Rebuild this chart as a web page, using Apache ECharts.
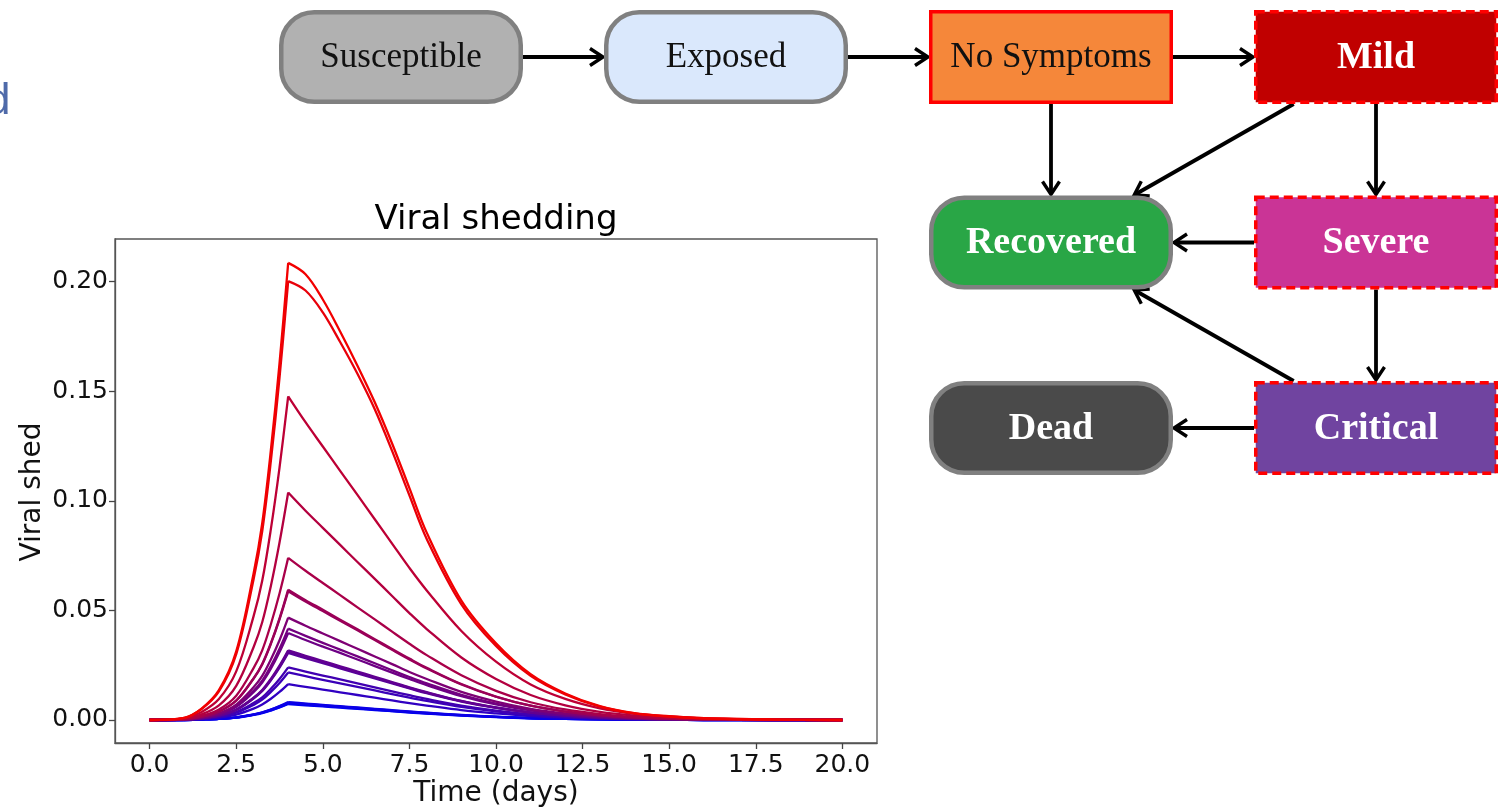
<!DOCTYPE html>
<html>
<head>
<meta charset="utf-8">
<script src="https://cdn.jsdelivr.net/npm/echarts@6/dist/echarts.min.js"></script>
<style>
html,body{margin:0;padding:0;background:#ffffff;}
#main{width:1506px;height:809px;}
</style>
</head>
<body>
<div id="main"></div>
<script>
// ---------------- data ----------------
const timeDays = [0, 1, 1.5, 2, 2.5, 3, 3.25, 3.5, 3.75, 4, 4.5, 5, 5.5, 6, 6.5, 7, 7.5, 8, 9, 10, 11, 12, 13, 14, 15, 16, 18, 20];
const peakDay = 4;

const shed01 = [0, 0.0010, 0.0052, 0.0136, 0.0313, 0.0668, 0.0897, 0.1231, 0.1627, 0.2086, 0.2034, 0.1919, 0.1773, 0.1617, 0.1450, 0.1262, 0.1058, 0.0855, 0.0545, 0.0350, 0.0209, 0.0121, 0.0063, 0.0031, 0.0017, 0.0008, 0.0002, 0];
const shed02 = [0, 0.0010, 0.0050, 0.0130, 0.0300, 0.0641, 0.0861, 0.1182, 0.1562, 0.2003, 0.1960, 0.1860, 0.1725, 0.1580, 0.1418, 0.1228, 0.1025, 0.0826, 0.0528, 0.0338, 0.0202, 0.0117, 0.0061, 0.0030, 0.0016, 0.0008, 0.0002, 0];
const shed03 = [0, 0.0007, 0.0037, 0.0096, 0.0222, 0.0473, 0.0635, 0.0871, 0.1152, 0.1477, 0.1359, 0.1248, 0.1137, 0.1027, 0.0916, 0.0805, 0.0694, 0.0591, 0.0406, 0.0266, 0.0162, 0.0096, 0.0053, 0.0028, 0.0015, 0.0007, 0.0002, 0];
const shed04 = [0, 0.0005, 0.0026, 0.0067, 0.0156, 0.0332, 0.0446, 0.0612, 0.0810, 0.1038, 0.0955, 0.0877, 0.0799, 0.0721, 0.0644, 0.0566, 0.0488, 0.0415, 0.0285, 0.0187, 0.0114, 0.0067, 0.0037, 0.0020, 0.0010, 0.0005, 0.0002, 0];
const shed05 = [0, 0.0004, 0.0019, 0.0048, 0.0111, 0.0237, 0.0318, 0.0437, 0.0577, 0.0740, 0.0681, 0.0625, 0.0570, 0.0514, 0.0459, 0.0403, 0.0348, 0.0296, 0.0204, 0.0133, 0.0081, 0.0048, 0.0027, 0.0014, 0.0007, 0.0004, 0.0001, 0];
const shed06 = [0, 0.0003, 0.0015, 0.0039, 0.0089, 0.0190, 0.0256, 0.0351, 0.0464, 0.0595, 0.0547, 0.0503, 0.0458, 0.0414, 0.0369, 0.0324, 0.0280, 0.0238, 0.0164, 0.0107, 0.0065, 0.0039, 0.0021, 0.0011, 0.0006, 0.0003, 0.0001, 0];
const shed07 = [0, 0.0003, 0.0015, 0.0038, 0.0088, 0.0188, 0.0253, 0.0347, 0.0459, 0.0588, 0.0541, 0.0497, 0.0453, 0.0409, 0.0365, 0.0320, 0.0276, 0.0235, 0.0162, 0.0106, 0.0065, 0.0038, 0.0021, 0.0011, 0.0006, 0.0003, 0.0001, 0];
const shed08 = [0, 0.0002, 0.0012, 0.0030, 0.0070, 0.0149, 0.0201, 0.0276, 0.0364, 0.0467, 0.0430, 0.0395, 0.0360, 0.0325, 0.0290, 0.0255, 0.0219, 0.0187, 0.0128, 0.0084, 0.0051, 0.0030, 0.0017, 0.0009, 0.0005, 0.0002, 0.0001, 0];
const shed09 = [0, 0.0002, 0.0010, 0.0027, 0.0063, 0.0133, 0.0179, 0.0246, 0.0325, 0.0417, 0.0384, 0.0352, 0.0321, 0.0290, 0.0259, 0.0227, 0.0196, 0.0167, 0.0115, 0.0075, 0.0046, 0.0027, 0.0015, 0.0008, 0.0004, 0.0002, 0.0001, 0];
const shed10 = [0, 0.0002, 0.0010, 0.0026, 0.0060, 0.0127, 0.0171, 0.0234, 0.0310, 0.0397, 0.0365, 0.0335, 0.0306, 0.0276, 0.0246, 0.0216, 0.0187, 0.0159, 0.0109, 0.0071, 0.0044, 0.0026, 0.0014, 0.0008, 0.0004, 0.0002, 0.0001, 0];
const shed11 = [0, 0.0002, 0.0008, 0.0021, 0.0048, 0.0102, 0.0137, 0.0188, 0.0248, 0.0318, 0.0293, 0.0269, 0.0245, 0.0221, 0.0197, 0.0173, 0.0149, 0.0127, 0.0087, 0.0057, 0.0035, 0.0021, 0.0011, 0.0006, 0.0003, 0.0002, 0.0000, 0];
const shed12 = [0, 0.0002, 0.0008, 0.0020, 0.0047, 0.0100, 0.0134, 0.0184, 0.0243, 0.0312, 0.0287, 0.0264, 0.0240, 0.0217, 0.0193, 0.0170, 0.0147, 0.0125, 0.0086, 0.0056, 0.0034, 0.0020, 0.0011, 0.0006, 0.0003, 0.0002, 0.0000, 0];
const shed13 = [0, 0.0002, 0.0008, 0.0020, 0.0046, 0.0098, 0.0132, 0.0181, 0.0239, 0.0306, 0.0282, 0.0259, 0.0236, 0.0213, 0.0190, 0.0167, 0.0144, 0.0122, 0.0084, 0.0055, 0.0034, 0.0020, 0.0011, 0.0006, 0.0003, 0.0002, 0.0000, 0];
const shed14 = [0, 0.0001, 0.0006, 0.0016, 0.0036, 0.0077, 0.0103, 0.0142, 0.0187, 0.0240, 0.0221, 0.0203, 0.0185, 0.0167, 0.0149, 0.0131, 0.0113, 0.0096, 0.0066, 0.0043, 0.0026, 0.0016, 0.0009, 0.0005, 0.0002, 0.0001, 0.0000, 0];
const shed15 = [0, 0.0001, 0.0005, 0.0014, 0.0033, 0.0069, 0.0093, 0.0128, 0.0169, 0.0217, 0.0200, 0.0183, 0.0167, 0.0151, 0.0135, 0.0118, 0.0102, 0.0087, 0.0060, 0.0039, 0.0024, 0.0014, 0.0008, 0.0004, 0.0002, 0.0001, 0.0000, 0];
const shed16 = [0, 0.0001, 0.0004, 0.0011, 0.0025, 0.0052, 0.0071, 0.0097, 0.0128, 0.0164, 0.0151, 0.0139, 0.0126, 0.0114, 0.0102, 0.0089, 0.0077, 0.0066, 0.0045, 0.0030, 0.0018, 0.0011, 0.0006, 0.0003, 0.0002, 0.0001, 0.0000, 0];
const shed17 = [0, 0.0000, 0.0002, 0.0005, 0.0012, 0.0026, 0.0035, 0.0048, 0.0064, 0.0082, 0.0075, 0.0069, 0.0063, 0.0057, 0.0051, 0.0045, 0.0039, 0.0033, 0.0023, 0.0015, 0.0009, 0.0005, 0.0003, 0.0002, 0.0001, 0.0000, 0.0000, 0];
const shed18 = [0, 0.0000, 0.0002, 0.0005, 0.0012, 0.0025, 0.0034, 0.0047, 0.0062, 0.0079, 0.0073, 0.0067, 0.0061, 0.0055, 0.0049, 0.0043, 0.0037, 0.0032, 0.0022, 0.0014, 0.0009, 0.0005, 0.0003, 0.0002, 0.0001, 0.0000, 0.0000, 0];
const shed19 = [0, 0.0000, 0.0002, 0.0005, 0.0011, 0.0024, 0.0033, 0.0045, 0.0059, 0.0076, 0.0070, 0.0064, 0.0059, 0.0053, 0.0047, 0.0041, 0.0036, 0.0030, 0.0021, 0.0014, 0.0008, 0.0005, 0.0003, 0.0001, 0.0001, 0.0000, 0.0000, 0];
const shed20 = [0, 0.0000, 0.0002, 0.0005, 0.0011, 0.0023, 0.0031, 0.0043, 0.0057, 0.0073, 0.0067, 0.0062, 0.0056, 0.0051, 0.0045, 0.0040, 0.0034, 0.0029, 0.0020, 0.0013, 0.0008, 0.0005, 0.0003, 0.0001, 0.0001, 0.0000, 0.0000, 0];

// red share of each curve's colour (1 = red, 0 = blue), same order as the curves
const curveRedness = [1.0, 0.96, 0.78, 0.74, 0.70, 0.64, 0.62, 0.52, 0.47, 0.45, 0.40, 0.38, 0.36, 0.27, 0.24, 0.20, 0.05, 0.03, 0.01, 0.0];

const xTickValues = [0, 2.5, 5, 7.5, 10, 12.5, 15, 17.5, 20];
const yTickValues = [0, 0.05, 0.10, 0.15, 0.20];

// flow diagram
const nodeNames = ['Susceptible', 'Exposed', 'No Symptoms', 'Mild', 'Recovered', 'Severe', 'Dead', 'Critical'];
const nodeCol   = [0, 1, 2, 3, 2, 3, 2, 3];
const nodeRow   = [0, 0, 0, 0, 1, 1, 2, 2];
const edgeFrom  = ['Susceptible', 'Exposed', 'No Symptoms', 'No Symptoms', 'Mild', 'Mild', 'Severe', 'Severe', 'Critical', 'Critical'];
const edgeTo    = ['Exposed', 'No Symptoms', 'Mild', 'Recovered', 'Recovered', 'Severe', 'Recovered', 'Critical', 'Recovered', 'Dead'];

// ---------------- styles ----------------
const nodeStyle = {
  'Susceptible': {fill: '#b1b1b1', stroke: '#808080', dash: null, round: true,  text: '#111111', bold: false},
  'Exposed':     {fill: '#dae8fc', stroke: '#808080', dash: null, round: true,  text: '#111111', bold: false},
  'No Symptoms': {fill: '#f5873a', stroke: '#ff0000', dash: null, round: false, text: '#111111', bold: false},
  'Mild':        {fill: '#c00000', stroke: '#ff0000', dash: [9, 5], round: false, text: '#ffffff', bold: true},
  'Recovered':   {fill: '#29a646', stroke: '#808080', dash: null, round: true,  text: '#ffffff', bold: true},
  'Severe':      {fill: '#ca3496', stroke: '#ff0000', dash: [9, 5], round: false, text: '#ffffff', bold: true},
  'Dead':        {fill: '#4a4a4a', stroke: '#808080', dash: null, round: true,  text: '#ffffff', bold: true},
  'Critical':    {fill: '#7044a0', stroke: '#ff0000', dash: [9, 5], round: false, text: '#ffffff', bold: true}
};
const NODE_W = 244, NODE_H = 94;

const allCurves = [shed01, shed02, shed03, shed04, shed05, shed06, shed07, shed08, shed09, shed10,
                   shed11, shed12, shed13, shed14, shed15, shed16, shed17, shed18, shed19, shed20];

function curveColor(r) {
  return 'rgb(' + Math.round(242 * r) + ',' + 0 + ',' + Math.round(242 * (1 - r)) + ')';
}

const chart = echarts.init(document.getElementById('main'), null, {renderer: 'canvas'});

const series = [];
const peakIdx = timeDays.indexOf(peakDay);
// draw blue first so red lies on top; rising and falling parts are smoothed separately
for (let k = allCurves.length - 1; k >= 0; k--) {
  const vals = allCurves[k];
  const col = curveColor(curveRedness[k]);
  const pts = timeDays.map((t, i) => [t, vals[i]]);
  [pts.slice(0, peakIdx + 1), pts.slice(peakIdx)].forEach(part => {
    series.push({
      type: 'line',
      xAxisIndex: 0, yAxisIndex: 0,
      data: part,
      smooth: 0.35,
      showSymbol: false, symbol: 'none',
      lineStyle: {width: 2.3, color: col, join: 'round'},
      itemStyle: {color: col},
      silent: true,
      z: 3
    });
  });
}

const nodeData = nodeNames.map((n, i) => [nodeCol[i], nodeRow[i], i]);
series.push({
  type: 'custom',
  coordinateSystem: 'cartesian2d',
  xAxisIndex: 1, yAxisIndex: 1,
  data: nodeData,
  silent: true,
  z: 5,
  renderItem: function (params, api) {
    const c = api.coord([api.value(0), api.value(1)]);
    const name = nodeNames[api.value(2)];
    const st = nodeStyle[name];
    const lw = st.round ? 4.5 : 3.5;
    const w = NODE_W - lw, h = NODE_H - lw;
    return {
      type: 'group',
      children: [
        {
          type: 'rect',
          shape: {x: c[0] - w / 2, y: c[1] - h / 2, width: w, height: h, r: st.round ? 33 : 0},
          style: {fill: st.fill, stroke: st.stroke, lineWidth: lw, lineDash: st.dash || null}
        },
        {
          type: 'text',
          x: c[0], y: c[1] + 1,
          style: {
            text: name,
            fill: st.text,
            font: (st.bold ? 'bold 38px ' : '35px ') + '"Liberation Serif", "DejaVu Serif", serif',
            align: 'center', verticalAlign: 'middle'
          }
        }
      ]
    };
  }
});

const edgeData = edgeFrom.map((f, i) => {
  const a = nodeNames.indexOf(f), b = nodeNames.indexOf(edgeTo[i]);
  return [nodeCol[a], nodeRow[a], nodeCol[b], nodeRow[b]];
});
series.push({
  type: 'custom',
  coordinateSystem: 'cartesian2d',
  xAxisIndex: 1, yAxisIndex: 1,
  data: edgeData,
  silent: true,
  z: 4,
  renderItem: function (params, api) {
    const a = api.coord([api.value(0), api.value(1)]);
    const b = api.coord([api.value(2), api.value(3)]);
    const dx = b[0] - a[0], dy = b[1] - a[1];
    const len = Math.hypot(dx, dy);
    const ux = dx / len, uy = dy / len;
    const hw = NODE_W / 2, hh = NODE_H / 2;
    const tx = Math.abs(ux) > 1e-6 ? hw / Math.abs(ux) : Infinity;
    const ty = Math.abs(uy) > 1e-6 ? hh / Math.abs(uy) : Infinity;
    const te = Math.min(tx, ty);
    const p0 = [a[0] + ux * te, a[1] + uy * te];
    const tip = [b[0] - ux * (te + 1), b[1] - uy * (te + 1)];
    const L = 13, W = 8.5;
    const nx = -uy, ny = ux;
    const back = [tip[0] - ux * L, tip[1] - uy * L];
    return {
      type: 'group',
      children: [
        {
          type: 'line',
          shape: {x1: p0[0], y1: p0[1], x2: tip[0] - ux * 2, y2: tip[1] - uy * 2},
          style: {stroke: '#000', lineWidth: 3.8}
        },
        {
          type: 'polyline',
          shape: {points: [[back[0] + nx * W, back[1] + ny * W], tip, [back[0] - nx * W, back[1] - ny * W]]},
          style: {stroke: '#000', lineWidth: 3.4, fill: null, lineJoin: 'miter'}
        }
      ]
    };
  }
});

const tickFont = '"DejaVu Sans", sans-serif';

const option = {
  animation: false,
  backgroundColor: '#ffffff',
  grid: [
    {left: 115, top: 239, width: 762, height: 504, show: true, borderColor: '#555', borderWidth: 1.3, backgroundColor: 'transparent', containLabel: false},
    {left: 271, top: 1.35, width: 1235, height: 482.3, show: false, containLabel: false}
  ],
  xAxis: [
    {
      gridIndex: 0, type: 'value', min: -1, max: 21, position: 'bottom',
      axisLine: {show: true, onZero: false, lineStyle: {color: '#555', width: 1.3}},
      axisTick: {show: true, inside: false, length: 6, customValues: xTickValues, lineStyle: {color: '#444', width: 1.3}},
      axisLabel: {show: true, customValues: xTickValues, formatter: v => Number(v).toFixed(1), fontSize: 25, fontFamily: tickFont, color: '#111', margin: 10},
      splitLine: {show: false}
    },
    {gridIndex: 1, type: 'value', min: -0.4, max: 3.4, show: false}
  ],
  yAxis: [
    {
      gridIndex: 0, type: 'value', min: -0.0105, max: 0.2195, position: 'left',
      axisLine: {show: true, onZero: false, lineStyle: {color: '#555', width: 1.3}},
      axisTick: {show: true, inside: false, length: 6, customValues: yTickValues, lineStyle: {color: '#444', width: 1.3}},
      axisLabel: {show: true, customValues: yTickValues, formatter: v => Number(v).toFixed(2), fontSize: 25, fontFamily: tickFont, color: '#111', margin: 7},
      splitLine: {show: false}
    },
    {gridIndex: 1, type: 'value', min: -0.3, max: 2.3, inverse: true, show: false}
  ],
  graphic: [
    {type: 'text', x: 496, y: 220, silent: true,
     style: {text: 'Viral shedding', font: '34px "DejaVu Sans", sans-serif', fill: '#000', align: 'center', verticalAlign: 'middle'}},
    {type: 'text', x: 496, y: 794, silent: true,
     style: {text: 'Time (days)', font: '28px "DejaVu Sans", sans-serif', fill: '#111', align: 'center', verticalAlign: 'middle'}},
    {type: 'text', x: 33, y: 492, rotation: Math.PI / 2, silent: true,
     style: {text: 'Viral shed', font: '28px "DejaVu Sans", sans-serif', fill: '#111', align: 'center', verticalAlign: 'middle'}},
    {type: 'text', x: -14, y: 102, silent: true,
     style: {text: 'd', font: '44px "Liberation Sans", Arial, sans-serif', fill: '#4f6aa9', align: 'left', verticalAlign: 'middle'}}
  ],
  series: series
};

chart.setOption(option);
</script>
</body>
</html>
